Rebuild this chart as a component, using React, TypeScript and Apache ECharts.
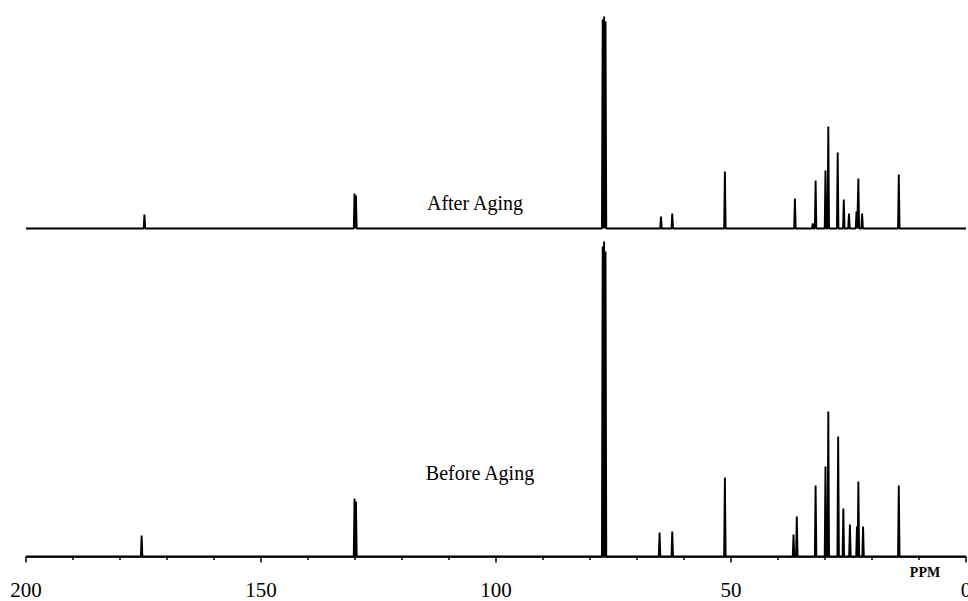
import React, { useEffect, useRef } from "react";
import * as echarts from "echarts";

// Peak lists: [chemical shift (ppm), intensity (arbitrary units ≈ px)]
const afterAgingPeaks: [number, number][] = [
  [174.8, 14],
  [130.1, 35],
  [129.8, 33],
  [77.3, 209],
  [77.0, 212],
  [76.7, 207],
  [64.9, 12],
  [62.5, 15],
  [51.3, 57],
  [36.4, 30],
  [32.6, 5],
  [32.0, 48],
  [29.9, 58],
  [29.3, 102],
  [27.3, 76],
  [26.0, 29],
  [24.9, 15],
  [23.3, 17],
  [22.9, 50],
  [22.1, 15],
  [14.3, 54],
];

const beforeAgingPeaks: [number, number][] = [
  [175.4, 21],
  [130.1, 58],
  [129.8, 55],
  [77.3, 310],
  [77.0, 315],
  [76.7, 305],
  [65.2, 24],
  [62.5, 25],
  [51.3, 79],
  [36.7, 22],
  [36.0, 40],
  [32.0, 71],
  [29.9, 90],
  [29.3, 145],
  [27.2, 120],
  [26.1, 48],
  [24.7, 32],
  [23.2, 30],
  [22.9, 75],
  [21.9, 30],
  [14.3, 71],
];

const spectrumLabels = ["After Aging", "Before Aging"];
const axisUnit = "PPM";

const HALF_WIDTH = 0.16;

function buildTrace(peaks: [number, number][]): [number, number][] {
  const pts: [number, number][] = [
    [200, 0],
    [0, 0],
  ];
  peaks.forEach(([p, h]) => {
    pts.push([p + HALF_WIDTH, 0], [p, h], [p - HALF_WIDTH, 0]);
  });
  return pts.sort((a, b) => b[0] - a[0]);
}

const SERIF = "'Liberation Serif', 'Times New Roman', serif";

export default function App() {
  const ref = useRef<HTMLDivElement>(null);

  useEffect(() => {
    document.body.style.margin = "0";
    if (!ref.current) return;
    const chart = echarts.init(ref.current, null, { renderer: "svg" });

    const commonX = {
      type: "value" as const,
      min: 0,
      max: 200,
      interval: 50,
      inverse: true,
      splitLine: { show: false },
    };

    chart.setOption({
      animation: false,
      backgroundColor: "#ffffff",
      textStyle: { fontFamily: SERIF },
      grid: [
        { left: 26, width: 940, top: 8.5, height: 230, outerBoundsMode: "none", containLabel: false },
        { left: 26, width: 940, top: 226.5, height: 338.5, outerBoundsMode: "none", containLabel: false },
      ],
      xAxis: [
        { ...commonX, gridIndex: 0, show: false },
        {
          ...commonX,
          gridIndex: 1,
          axisLine: { show: true, lineStyle: { color: "#000", width: 1.5 } },
          axisTick: { show: true, length: 6, lineStyle: { color: "#000", width: 1.5 } },
          minorTick: { show: true, splitNumber: 5, length: 3.5, lineStyle: { color: "#000", width: 1.5 } },
          minorSplitLine: { show: false },
          axisLabel: {
            color: "#000",
            fontSize: 21,
            fontFamily: SERIF,
            margin: 14,
            showMinLabel: true,
            showMaxLabel: true,
            formatter: "{t|{value}}",
            rich: {
              t: { fontFamily: SERIF, fontSize: 21, color: "#000" },
            },
          },
        },
      ],
      yAxis: [
        { type: "value", gridIndex: 0, min: -10, max: 220, show: false, splitLine: { show: false } },
        { type: "value", gridIndex: 1, min: -8.5, max: 330, show: false, splitLine: { show: false } },
      ],
      series: [
        {
          name: spectrumLabels[0],
          type: "line",
          xAxisIndex: 0,
          yAxisIndex: 0,
          data: buildTrace(afterAgingPeaks),
          symbol: "none",
          lineStyle: { color: "#000", width: 1.9 },
        },
        {
          name: spectrumLabels[1],
          type: "line",
          xAxisIndex: 1,
          yAxisIndex: 1,
          data: buildTrace(beforeAgingPeaks),
          symbol: "none",
          lineStyle: { color: "#000", width: 1.9 },
        },
      ],
      graphic: [
        {
          type: "text",
          x: 475,
          y: 202.5,
          style: {
            text: spectrumLabels[0],
            font: `20px ${SERIF}`,
            fill: "#000",
            textAlign: "center",
            textVerticalAlign: "middle",
          },
        },
        {
          type: "text",
          x: 480,
          y: 472.5,
          style: {
            text: spectrumLabels[1],
            font: `20px ${SERIF}`,
            fill: "#000",
            textAlign: "center",
            textVerticalAlign: "middle",
          },
        },
        {
          type: "text",
          x: 925,
          y: 572.5,
          style: {
            text: axisUnit,
            font: `bold 14px ${SERIF}`,
            fill: "#000",
            textAlign: "center",
            textVerticalAlign: "middle",
          },
        },
      ],
    });

    return () => chart.dispose();
  }, []);

  return <div ref={ref} style={{ width: 968, height: 601 }} />;
}
